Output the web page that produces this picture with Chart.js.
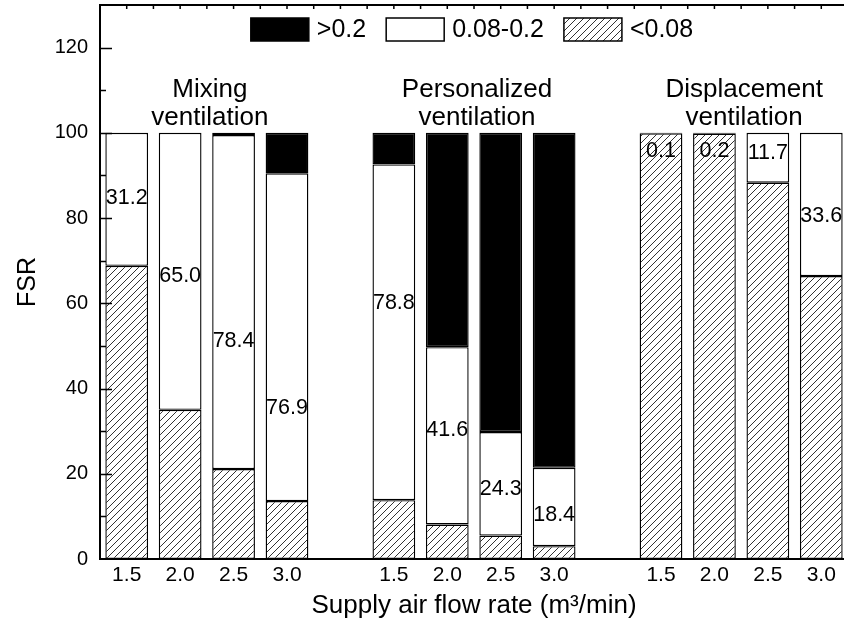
<!DOCTYPE html>
<html>
<head>
<meta charset="utf-8">
<script src="https://cdn.jsdelivr.net/npm/chart.js@4.4.1/dist/chart.umd.min.js"></script>
<style>
  html, body { margin: 0; padding: 0; background: #fff; overflow: hidden; }
  #wrap { width: 850px; height: 621px; }
</style>
</head>
<body>
<div id="wrap"><canvas id="fsrChart" width="850" height="621"></canvas></div>
<script>
// supply air flow rates (m3/min); empty slots separate the three ventilation modes
const flowRates = ['1.5', '2.0', '2.5', '3.0', '', '1.5', '2.0', '2.5', '3.0', '', '1.5', '2.0', '2.5', '3.0'];
const groupNames = [['Mixing', 'ventilation'], ['Personalized', 'ventilation'], ['Displacement', 'ventilation']];
const groupSlots = [[0, 3], [5, 8], [10, 13]];

// FSR share (%) of each band, stacked bottom to top
const below008 = [68.8, 35.0, 21.1, 13.6, null, 13.8, 8.1, 5.5, 3.0, null, 99.9, 99.8, 88.3, 66.4];
const mid008to02 = [31.2, 65.0, 78.4, 76.9, null, 78.8, 41.6, 24.3, 18.4, null, 0.1, 0.2, 11.7, 33.6];
const above02 = [0, 0, 0.5, 9.5, null, 7.4, 50.3, 70.2, 78.6, null, 0, 0, 0, 0];

// FSR height at which each 0.08-0.2 value is printed
const labelAt = [84.8, 66.3, 51.2, 35.4, null, 60.0, 30.2, 16.4, 10.2, null, 95.7, 95.7, 95.2, 80.4];
const groupLabelAt = 108.4;

const yTicks = [0, 20, 40, 60, 80, 100, 120];

const FONT = '"Liberation Sans", Arial, sans-serif';
Chart.defaults.font.family = FONT;
Chart.defaults.color = '#000';

// diagonal hatching for the <0.08 band
function hatch(step) {
  const c = document.createElement('canvas');
  c.width = c.height = step;
  const g = c.getContext('2d');
  g.fillStyle = '#fff';
  g.fillRect(0, 0, step, step);
  g.strokeStyle = '#333';
  g.lineWidth = 1;
  g.beginPath();
  g.moveTo(0, step); g.lineTo(step, 0);
  g.moveTo(-1, 1); g.lineTo(1, -1);
  g.moveTo(step - 1, step + 1); g.lineTo(step + 1, step - 1);
  g.stroke();
  return g.createPattern(c, 'repeat');
}

// top edge with small ticks, inward ticks on the FSR axis
const framePlugin = {
  id: 'frame',
  afterDraw(chart) {
    const { ctx, chartArea: a, scales: { x, y } } = chart;
    ctx.save();
    ctx.strokeStyle = '#000';
    ctx.lineWidth = 2;
    ctx.beginPath();
    ctx.moveTo(a.left - 1, a.top);
    ctx.lineTo(chart.width, a.top);
    ctx.stroke();

    ctx.lineWidth = 1.5;
    ctx.beginPath();
    const half = (x.getPixelForValue(1) - x.getPixelForValue(0)) / 2;
    for (let i = 0; i < flowRates.length; i++) {
      const px = x.getPixelForValue(i);
      [px - half, px].forEach(t => {
        if (t > a.left + 2) { ctx.moveTo(t, a.top); ctx.lineTo(t, a.top + 4); }
      });
    }
    for (let v = 10; v < 130; v += 10) {
      const py = Math.round(y.getPixelForValue(v)) + 0.5;
      ctx.moveTo(a.left, py);
      ctx.lineTo(a.left + (v % 20 === 0 ? 12 : 6), py);
    }
    ctx.stroke();
    ctx.restore();
  }
};

// printed values, group captions and the band legend
const textPlugin = {
  id: 'texts',
  afterDraw(chart) {
    const { ctx, chartArea: a, scales: { x, y } } = chart;
    const bars = chart.getDatasetMeta(1).data;
    ctx.save();
    ctx.fillStyle = '#000';
    ctx.textAlign = 'center';
    ctx.textBaseline = 'middle';
    ctx.font = '21.5px ' + FONT;
    mid008to02.forEach((v, i) => {
      if (v === null) return;
      ctx.fillText(v.toFixed(1), bars[i].x, y.getPixelForValue(labelAt[i]));
    });

    ctx.textBaseline = 'alphabetic';
    ctx.font = '26px ' + FONT;
    groupSlots.forEach(([first, last], g) => {
      const cx = (x.getPixelForValue(first) + x.getPixelForValue(last)) / 2 + 3;
      const by = y.getPixelForValue(groupLabelAt);
      groupNames[g].forEach((line, k) => ctx.fillText(line, cx, by + k * 28));
    });

    // legend, top band first
    const sets = chart.data.datasets.slice().reverse();
    const bw = 58, bh = 23, gap = 8, pad = 20;
    ctx.font = '25px ' + FONT;
    ctx.textAlign = 'left';
    ctx.textBaseline = 'middle';
    const widths = sets.map(ds => bw + gap + ctx.measureText(ds.label).width);
    const total = widths.reduce((s, w) => s + w, 0) + pad * (sets.length - 1);
    let lx = (a.left + a.right) / 2 - total / 2 - 2;
    const ly = a.top + 13;
    sets.forEach((ds, i) => {
      ctx.fillStyle = ds.backgroundColor;
      ctx.fillRect(lx, ly, bw, bh);
      ctx.strokeStyle = '#000';
      ctx.lineWidth = 1.5;
      ctx.strokeRect(lx, ly, bw, bh);
      ctx.fillStyle = '#000';
      ctx.fillText(ds.label, lx + bw + gap, ly + bh / 2 + 1);
      lx += widths[i] + pad;
    });
    ctx.restore();
  }
};

function initChart() {
  const canvas = document.getElementById('fsrChart');
  const barStyle = {
    borderColor: '#000',
    borderWidth: 1.4,
    borderSkipped: false,
    barPercentage: 0.8,
    categoryPercentage: 1.0,
  };

  new Chart(canvas, {
    type: 'bar',
    data: {
      labels: flowRates,
      datasets: [
        { label: '<0.08', data: below008, backgroundColor: hatch(7), ...barStyle },
        { label: '0.08-0.2', data: mid008to02, backgroundColor: '#fff', ...barStyle },
        { label: '>0.2', data: above02, backgroundColor: '#000', ...barStyle },
      ],
    },
    options: {
      responsive: false,
      animation: false,
      devicePixelRatio: 1,
      layout: { padding: { top: 5, right: 2, left: 0, bottom: 0 } },
      plugins: {
        legend: { display: false },
        tooltip: { enabled: false },
      },
      scales: {
        x: {
          stacked: true,
          offset: true,
          grid: { display: false, drawTicks: false },
          border: { display: true, color: '#000', width: 2 },
          ticks: { font: { size: 21 }, padding: 4, maxRotation: 0, autoSkip: false },
          title: {
            display: true,
            text: 'Supply air flow rate (m³/min)',
            font: { size: 26 },
            padding: { top: 0, bottom: 0 },
          },
          afterFit(scale) {
            scale.height = 62;
            scale.paddingLeft = 0;
            scale.paddingRight = 0;
          },
        },
        y: {
          stacked: true,
          min: 0,
          max: 130,
          afterBuildTicks(scale) { scale.ticks = yTicks.map(value => ({ value })); },
          grid: { display: false, drawTicks: false },
          border: { display: true, color: '#000', width: 2 },
          ticks: { font: { size: 20 }, padding: 12 },
          title: { display: true, text: 'FSR', font: { size: 25 }, padding: { top: 13, bottom: 13 } },
          afterFit(scale) {
            scale.width = 100;
            scale.paddingTop = 0;
            scale.paddingBottom = 0;
          },
        },
      },
    },
    plugins: [framePlugin, textPlugin],
  });
}

document.addEventListener('DOMContentLoaded', initChart);
</script>
</body>
</html>
